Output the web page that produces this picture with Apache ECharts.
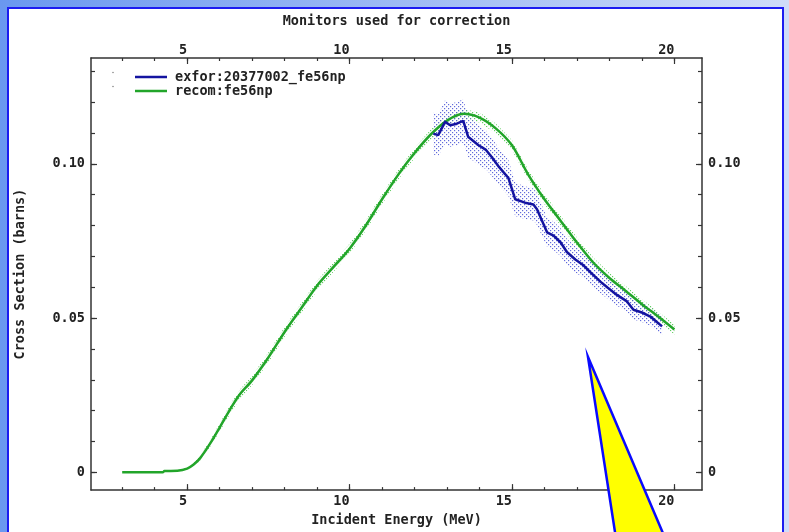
<!DOCTYPE html>
<html><head><meta charset="utf-8">
<script src="https://cdn.jsdelivr.net/npm/echarts@6/dist/echarts.min.js"></script>
<style>html,body{margin:0;padding:0;background:#fff}#c{width:789px;height:532px}</style>
</head><body><div id="c"></div>
<script>
// ---- data ----
const recomE = [3, 4, 4.25, 4.3, 4.7, 5.0, 5.2, 5.4, 5.7, 6.0, 6.3, 6.6, 7.0, 7.5, 8.0, 8.5, 9.0, 9.5, 10.0, 10.5, 11.0, 11.5, 12.0, 12.5, 13.0, 13.5, 14.0, 14.5, 15.0, 15.5, 16.0, 16.5, 17.0, 17.5, 18.0, 18.5, 19.0, 19.5, 20.0];
const recomY = [0, 0, 0, 0.0004, 0.0005, 0.0012, 0.0025, 0.0046, 0.0092, 0.0145, 0.0200, 0.0250, 0.0298, 0.0372, 0.0455, 0.0530, 0.0605, 0.0665, 0.0725, 0.0800, 0.0885, 0.0965, 0.1035, 0.1095, 0.1140, 0.1162, 0.1150, 0.1115, 0.1060, 0.0965, 0.0885, 0.0815, 0.0745, 0.0680, 0.0630, 0.0588, 0.0545, 0.0505, 0.0463];
const recomErr = [0, 0, 0, 0, 0, 0.0003, 0.0005, 0.0008, 0.0011, 0.0013, 0.0015, 0.0015, 0.0015, 0.0016, 0.0016, 0.0016, 0.0016, 0.0016, 0.0016, 0.0016, 0.0016, 0.0016, 0.0016, 0.0016, 0.0016, 0.0016, 0.0016, 0.0016, 0.0016, 0.0016, 0.0016, 0.0016, 0.0016, 0.0016, 0.0016, 0.0016, 0.0016, 0.0016, 0.0016];
const exforE = [12.58, 12.73, 12.94, 13.1, 13.3, 13.5, 13.65, 13.96, 14.2, 14.37, 14.6, 14.89, 15.1, 15.4, 15.66, 15.77, 16.08, 16.28, 16.5, 16.69, 16.95, 17.2, 17.45, 17.72, 17.95, 18.23, 18.54, 18.74, 19.0, 19.26, 19.45, 19.62];
const exforY = [0.1098, 0.1093, 0.1136, 0.1125, 0.1130, 0.1139, 0.1088, 0.1061, 0.1045, 0.1023, 0.0990, 0.0954, 0.0885, 0.0874, 0.0868, 0.0853, 0.0778, 0.0767, 0.0745, 0.0714, 0.0690, 0.0671, 0.0645, 0.0618, 0.0598, 0.0575, 0.0554, 0.0527, 0.0518, 0.0505, 0.0488, 0.0473];
const exforErr = [0.0068, 0.0068, 0.0070, 0.0070, 0.0070, 0.0070, 0.0066, 0.0064, 0.0063, 0.0062, 0.0060, 0.0058, 0.0054, 0.0053, 0.0052, 0.0051, 0.0047, 0.0046, 0.0045, 0.0043, 0.0042, 0.0040, 0.0039, 0.0037, 0.0036, 0.0035, 0.0033, 0.0032, 0.0031, 0.0030, 0.0029, 0.0028];
const xMajor = [5, 10, 15, 20];
const xMinor = [3, 4, 5, 6, 7, 8, 9, 10, 11, 12, 13, 14, 15, 16, 17, 18, 19, 20];
const yMajor = [0, 0.05, 0.10];
const yMinor = [0, 0.01, 0.02, 0.03, 0.04, 0.05, 0.06, 0.07, 0.08, 0.09, 0.10, 0.11, 0.12, 0.13];
const exforName = 'exfor:20377002_fe56np';
const recomName = 'recom:fe56np';

// ---- helpers ----
function dotPattern(color) {
  const c = document.createElement('canvas'); c.width = 4; c.height = 4;
  const g = c.getContext('2d'); g.fillStyle = color;
  g.fillRect(0, 0, 1.2, 1.2); g.fillRect(2, 2, 1.2, 1.2);
  return { image: c, repeat: 'repeat' };
}
function bandSeries(E, Y, Err, pattern, z) {
  return {
    type: 'custom', silent: true, z: z,
    data: [[E[0], Y[0]]],
    renderItem: function (params, api) {
      const pts = [];
      for (let i = 0; i < E.length; i++) pts.push(api.coord([E[i], Y[i] + Err[i]]));
      for (let i = E.length - 1; i >= 0; i--) pts.push(api.coord([E[i], Y[i] - Err[i]]));
      return { type: 'polygon', shape: { points: pts }, style: { fill: pattern } };
    }
  };
}
const font = { fontFamily: 'DejaVu Sans Mono', fontWeight: 'bold', fontSize: 13.5, color: '#222' };
const axisCol = '#333';
const XMIN = 2.04, XMAX = 20.85, YMIN = -0.00577, YMAX = 0.1343;

function xAx(pos, major, name, gap, lblMargin) {
  const a = {
    type: 'value', position: pos, min: XMIN, max: XMAX,
    splitLine: { show: false },
    axisLine: { show: !major, onZero: false, lineStyle: { color: axisCol, width: 1.5 } },
    axisTick: { show: true, inside: true, length: major ? 6 : 3, customValues: major ? xMajor : xMinor, lineStyle: { color: axisCol, width: 1.2 } },
    axisLabel: major ? { show: false } : Object.assign({ show: true, customValues: xMajor, align: 'right', margin: lblMargin }, font)
  };
  if (name) Object.assign(a, { name: name, nameLocation: 'middle', nameGap: gap, nameTextStyle: font });
  return a;
}
function yAx(pos, major, name, gap) {
  const a = {
    type: 'value', position: pos, min: YMIN, max: YMAX,
    splitLine: { show: false },
    axisLine: { show: !major, onZero: false, lineStyle: { color: axisCol, width: 1.5 } },
    axisTick: { show: true, inside: true, length: major ? 6 : 4, customValues: major ? yMajor : yMinor, lineStyle: { color: axisCol, width: 1.2 } },
    axisLabel: major ? { show: false } : Object.assign({ show: true, customValues: yMajor, margin: 6,
      formatter: function (v) { return Math.abs(v) < 1e-9 ? '0' : v.toFixed(2); } }, font)
  };
  if (name) Object.assign(a, { name: name, nameLocation: 'middle', nameGap: gap, nameTextStyle: font });
  return a;
}

const chart = echarts.init(document.getElementById('c'), null, { renderer: 'canvas' });
chart.setOption({
  animation: false,
  backgroundColor: '#fff',
  grid: { left: 91, right: 87, top: 58, bottom: 38 },
  xAxis: [
    xAx('bottom', false, 'Incident Energy (MeV)', 21, 4),
    xAx('bottom', true),
    xAx('top', false, 'Monitors used for correction', 30, 1),
    xAx('top', true)
  ],
  yAxis: [
    yAx('left', false, 'Cross Section (barns)', 64),
    yAx('left', true),
    yAx('right', false),
    yAx('right', true)
  ],
  legend: {
    data: [exforName, recomName], orient: 'vertical', left: 130, top: 65,
    icon: 'rect', itemWidth: 32, itemHeight: 2.5, itemGap: 0, selectedMode: false,
    textStyle: Object.assign({ lineHeight: 14, padding: [0, 0, 0, 3] }, font)
  },
  series: [
    bandSeries(recomE, recomY, recomErr, dotPattern('rgba(80,200,80,0.9)'), 1),
    bandSeries(exforE, exforY, exforErr, dotPattern('rgba(80,90,215,0.9)'), 1),
    { type: 'line', name: recomName, data: recomE.map((e, i) => [e, recomY[i]]), symbol: 'none', smooth: 0.3,
      lineStyle: { color: '#22a52a', width: 2.5 }, itemStyle: { color: '#22a52a' }, z: 3 },
    { type: 'line', name: exforName, data: exforE.map((e, i) => [e, exforY[i]]), symbol: 'none',
      lineStyle: { color: '#1414a0', width: 2.5 }, itemStyle: { color: '#1414a0' }, z: 4 }
  ],
  graphic: [
    { type: 'rect', z: -100, silent: true, shape: { x: 0, y: 0, width: 789, height: 532 },
      style: { fill: { type: 'linear', x: 0, y: 0, x2: 1, y2: 0, colorStops: [{ offset: 0, color: '#6a98f0' }, { offset: 1, color: '#cfdcf8' }] } } },
    { type: 'rect', z: -99, silent: true, shape: { x: 8, y: 8, width: 775, height: 540 },
      style: { fill: '#ffffff', stroke: '#1c1cf0', lineWidth: 2 } },
    { type: 'circle', z: 50, silent: true, shape: { cx: 113, cy: 72.5, r: 0.8 }, style: { fill: '#888' } },
    { type: 'circle', z: 50, silent: true, shape: { cx: 113, cy: 86.5, r: 0.8 }, style: { fill: '#888' } },
    { type: 'polygon', z: 100, silent: true, shape: { points: [[588, 357], [617, 545], [668, 545]] },
      style: { fill: '#ffff00', stroke: '#0a0aff', lineWidth: 2.5 } }
  ]
});
</script></body></html>
